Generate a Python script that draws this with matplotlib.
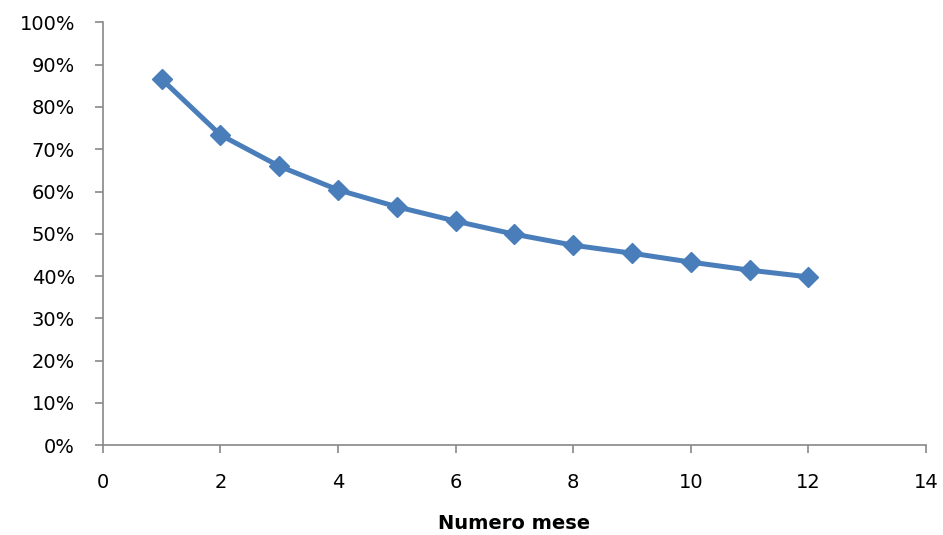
import matplotlib
matplotlib.use("Agg")
import matplotlib.pyplot as plt
from matplotlib.ticker import PercentFormatter

# month number and share
mesi = [1, 2, 3, 4, 5, 6, 7, 8, 9, 10, 11, 12]
valori = [0.866, 0.734, 0.660, 0.604, 0.564, 0.530, 0.499, 0.473, 0.454, 0.433, 0.414, 0.398]

blue = "#4A7EBB"
axis_grey = "#888888"
fontsize = 14

fig = plt.figure(figsize=(9.43, 5.35), dpi=100)
ax = fig.add_axes([0.109, 0.168, 0.873, 0.790])

ax.plot(mesi, valori, color=blue, linewidth=3.6, marker="D",
        markersize=10, markerfacecolor=blue, markeredgecolor=blue)

ax.set_xlim(0, 14)
ax.set_ylim(0, 1.0)
ax.set_xticks(range(0, 15, 2))
ax.set_yticks([i / 10 for i in range(0, 11)])
ax.yaxis.set_major_formatter(PercentFormatter(1.0, decimals=0))

for side in ["top", "right"]:
	ax.spines[side].set_visible(False)
for side in ["left", "bottom"]:
	ax.spines[side].set_color(axis_grey)
	ax.spines[side].set_linewidth(1.2)

ax.tick_params(axis="both", direction="out", length=6, width=1.2,
               color=axis_grey, labelsize=fontsize, labelcolor="black")
ax.tick_params(axis="x", pad=14)
ax.tick_params(axis="y", pad=14)

ax.set_xlabel("Numero mese", fontsize=fontsize, fontweight="bold", labelpad=16)

plt.savefig("out.png", dpi=100)
